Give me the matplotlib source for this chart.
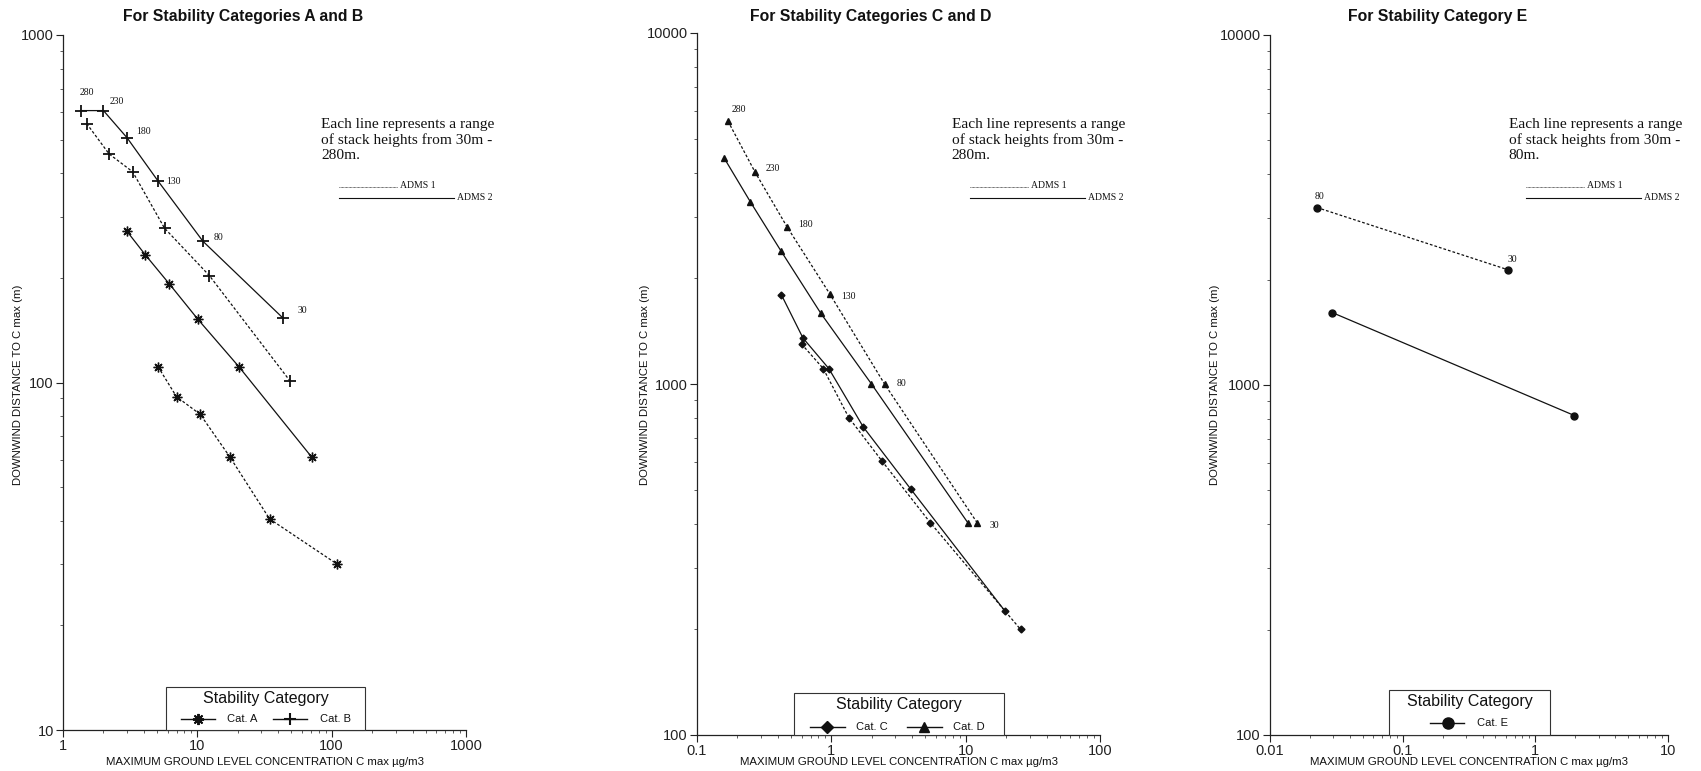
import matplotlib
matplotlib.use("Agg")
import matplotlib.pyplot as plt
from matplotlib.lines import Line2D
from matplotlib.patches import Rectangle
from matplotlib.ticker import FuncFormatter, LogLocator

# ---------------- data ----------------
stack_labels_ab = ['280', '230', '180', '130', '80', '30']
stack_labels_cd = ['280', '230', '180', '130', '80', '30']
stack_labels_e = ['80', '30']

# Panel 1: categories A and B (ADMS 1 = dashed, ADMS 2 = solid)
a1_x = [5.1, 7.0, 10.5, 17.5, 34.5, 110]
a1_y = [111, 91, 81, 61, 40.5, 30]
a2_x = [3.0, 4.1, 6.2, 10.1, 20.4, 71]
a2_y = [272, 233, 192, 152, 111, 61]
b1_x = [1.5, 2.2, 3.3, 5.7, 12.3, 49]
b1_y = [556, 455, 404, 278, 203, 101]
b2_x = [1.35, 2.0, 3.0, 5.1, 11, 43.6]
b2_y = [606, 606, 506, 380, 255, 153]

# Panel 2: categories C and D
c1_x = [0.60, 0.87, 1.35, 2.37, 5.47, 25.6]
c1_y = [1300, 1107, 802, 605, 402, 200]
c2_x = [0.425, 0.615, 0.957, 1.73, 3.9, 19.7]
c2_y = [1795, 1352, 1107, 754, 502, 225]
d1_x = [0.17, 0.271, 0.469, 0.97, 2.49, 12.2]
d1_y = [5610, 4010, 2800, 1810, 1000, 402]
d2_x = [0.16, 0.25, 0.42, 0.835, 1.99, 10.4]
d2_y = [4390, 3300, 2400, 1590, 1000, 402]

# Panel 3: category E
e1_x = [0.0226, 0.618]
e1_y = [3214, 2136]
e2_x = [0.0294, 1.97]
e2_y = [1611, 818]

titles = ["For Stability Categories A and B",
          "For Stability Categories C and D",
          "For Stability Category E"]
ylabel = "DOWNWIND DISTANCE TO C max (m)"
xlabel = "MAXIMUM GROUND LEVEL CONCENTRATION C max \u00b5g/m3"
notes = ["Each line represents a range\nof stack heights from 30m -\n280m.",
         "Each line represents a range\nof stack heights from 30m -\n280m.",
         "Each line represents a range\nof stack heights from 30m -\n80m."]

# ---------------- figure ----------------
W, H = 1701, 771
fig = plt.figure(figsize=(W / 100, H / 100), dpi=100)
fig.patch.set_facecolor('white')

def fx(px):
    return px / W

def fy(py):
    return 1 - py / H

SANS = 'Liberation Sans'
SERIF = 'Liberation Serif'
INK = '#111111'

# axes boxes in pixels: (left, top, right, bottom)
boxes = [(63, 35, 466, 730), (697, 33, 1100, 735), (1270, 35, 1668, 735)]
xlims = [(1, 1000), (0.1, 100), (0.01, 10)]
ylims = [(10, 1000), (100, 10000), (100, 10000)]

axes = []
for (l, t, r, b), xl, yl in zip(boxes, xlims, ylims):
    ax = fig.add_axes([fx(l), fy(b), (r - l) / W, (b - t) / H])
    ax.set_xscale('log')
    ax.set_yscale('log')
    ax.set_xlim(*xl)
    ax.set_ylim(*yl)
    for s in ['top', 'right']:
        ax.spines[s].set_visible(False)
    for s in ['left', 'bottom']:
        ax.spines[s].set_color('#222222')
        ax.spines[s].set_linewidth(0.9)
    ax.xaxis.set_major_locator(LogLocator(base=10, numticks=10))
    ax.yaxis.set_major_locator(LogLocator(base=10, numticks=10))
    ax.xaxis.set_minor_locator(LogLocator(base=10, subs=range(2, 10), numticks=20))
    ax.yaxis.set_minor_locator(LogLocator(base=10, subs=range(2, 10), numticks=20))
    fmt = FuncFormatter(lambda v, p: f"{v:g}")
    ax.xaxis.set_major_formatter(fmt)
    ax.yaxis.set_major_formatter(fmt)
    ax.xaxis.set_minor_formatter(FuncFormatter(lambda v, p: ""))
    ax.yaxis.set_minor_formatter(FuncFormatter(lambda v, p: ""))
    ax.tick_params(which='major', direction='out', length=5, width=0.8, colors='#222222',
                   labelsize=10.5, pad=1.5)
    ax.tick_params(which='minor', direction='out', length=2.5, width=0.6, colors='#444444')
    for lab in ax.get_xticklabels() + ax.get_yticklabels():
        lab.set_fontfamily(SANS)
    ax.set_facecolor('none')
    axes.append(ax)

ax1, ax2, ax3 = axes

LW = 0.9
DASH = (0, (2.2, 1.6))
kw_line = dict(color=INK, lw=LW)
STAR = (8, 2, 0)

# panel 1
ax1.plot(a1_x, a1_y, linestyle=DASH, marker=STAR, ms=7, mew=1.0, **kw_line)
ax1.plot(a2_x, a2_y, linestyle='-', marker=STAR, ms=7, mew=1.0, **kw_line)
ax1.plot(b1_x, b1_y, linestyle=DASH, marker='+', ms=8, mew=1.3, **kw_line)
ax1.plot(b2_x, b2_y, linestyle='-', marker='+', ms=8, mew=1.3, **kw_line)

# panel 2
ax2.plot(c1_x, c1_y, linestyle=DASH, marker='D', ms=3.5, **kw_line)
ax2.plot(c2_x, c2_y, linestyle='-', marker='D', ms=3.5, **kw_line)
ax2.plot(d1_x, d1_y, linestyle=DASH, marker='^', ms=5, **kw_line)
ax2.plot(d2_x, d2_y, linestyle='-', marker='^', ms=5, **kw_line)

# panel 3
ax3.plot(e1_x, e1_y, linestyle=DASH, marker='o', ms=5, **kw_line)
ax3.plot(e2_x, e2_y, linestyle='-', marker='o', ms=5, **kw_line)

# stack-height labels (offsets in pixels: right, up)
PT = 0.72
off_ab = [(6, 18), (13, 9), (16, 6), (15, 0), (16, 3.5), (19, 8)]
off_cd = [(11, 12), (18, 4), (18, 3), (19, -3), (16.5, 0), (17, -2.5)]
off_e = [(2.5, 11), (5, 10)]
for ax, xs, ys, labs, offs in [(ax1, b2_x, b2_y, stack_labels_ab, off_ab),
                               (ax2, d1_x, d1_y, stack_labels_cd, off_cd),
                               (ax3, e1_x, e1_y, stack_labels_e, off_e)]:
    for x, y, s, (dx, dy) in zip(xs, ys, labs, offs):
        ax.annotate(s, (x, y), xytext=(dx * PT, dy * PT), textcoords='offset points',
                    ha='center', va='center', fontsize=7, family=SERIF, color=INK)

# titles, axis labels
title_cx = [243, 871, 1438]
ylab_cx = [18, 645, 1215]
for i, ax in enumerate(axes):
    l, t, r, b = boxes[i]
    fig.text(fx(title_cx[i]), fy(16), titles[i], ha='center', va='center',
             fontsize=11.3, fontweight='bold', family=SANS, color=INK)
    fig.text(fx(ylab_cx[i]), fy(385), ylabel, rotation=90, ha='center', va='center',
             fontsize=8.2, family=SANS, color=INK)
    fig.text(fx((l + r) / 2), fy(762), xlabel, ha='center', va='center',
             fontsize=8.2, family=SANS, color=INK)

# note text and ADMS key
note_x = [321, 951.5, 1508.5]
key_x0 = [339, 969.5, 1526]
for i in range(3):
    fig.text(fx(note_x[i]), fy(140), notes[i], ha='left', va='center',
             fontsize=11.1, family=SERIF, color=INK, linespacing=1.2)
    x0 = key_x0[i]
    fig.add_artist(Line2D([fx(x0), fx(x0 + 58)], [fy(187), fy(187)], transform=fig.transFigure,
                          color=INK, lw=0.6, linestyle=(0, (0.8, 0.8))))
    fig.text(fx(x0 + 61), fy(188), "ADMS 1", ha='left', va='baseline', fontsize=7,
             family=SERIF, color=INK)
    fig.add_artist(Line2D([fx(x0), fx(x0 + 115)], [fy(198), fy(198)], transform=fig.transFigure,
                          color=INK, lw=0.8))
    fig.text(fx(x0 + 118), fy(200), "ADMS 2", ha='left', va='baseline', fontsize=7,
             family=SERIF, color=INK)

# category legends (box, title, entries) in pixel coordinates
legends = [
    dict(box=(166, 687, 365, 730), title=(265.5, 699), ey=719,
         items=[((181, 215), 198, 227, "Cat. A", dict(marker=STAR, ms=8, mew=1.4)),
                ((273, 307), 290, 319.5, "Cat. B", dict(marker='+', ms=9, mew=1.5))]),
    dict(box=(794, 693, 1004, 735), title=(899, 705), ey=726.5,
         items=[((810, 845), 827, 856, "Cat. C", dict(marker='D', ms=6)),
                ((907, 942), 924, 953, "Cat. D", dict(marker='^', ms=7.5))]),
    dict(box=(1389, 690, 1550, 735), title=(1469.6, 701.5), ey=723,
         items=[((1430, 1464), 1448, 1477, "Cat. E", dict(marker='o', ms=8))]),
]
for lg in legends:
    x0, y0, x1, y1 = lg['box']
    fig.add_artist(Rectangle((fx(x0), fy(y1)), (x1 - x0) / W, (y1 - y0) / H,
                             transform=fig.transFigure, fill=True, facecolor='white',
                             edgecolor='#333333', lw=0.8, zorder=3))
    fig.text(fx(lg['title'][0]), fy(lg['title'][1]), "Stability Category", ha='center',
             va='center', fontsize=11.5, family=SANS, color=INK, zorder=4)
    ey = lg['ey']
    for (lx0, lx1), mx, tx, lab, mk in lg['items']:
        fig.add_artist(Line2D([fx(lx0), fx(lx1)], [fy(ey), fy(ey)], transform=fig.transFigure,
                              color=INK, lw=1.0, zorder=4))
        fig.add_artist(Line2D([fx(mx)], [fy(ey)], transform=fig.transFigure, color=INK,
                              linestyle='none', zorder=5, **mk))
        fig.text(fx(tx), fy(ey), lab, ha='left', va='center', fontsize=8, family=SANS,
                 color=INK, zorder=5)

fig.savefig("out.png", dpi=100, facecolor='white')
